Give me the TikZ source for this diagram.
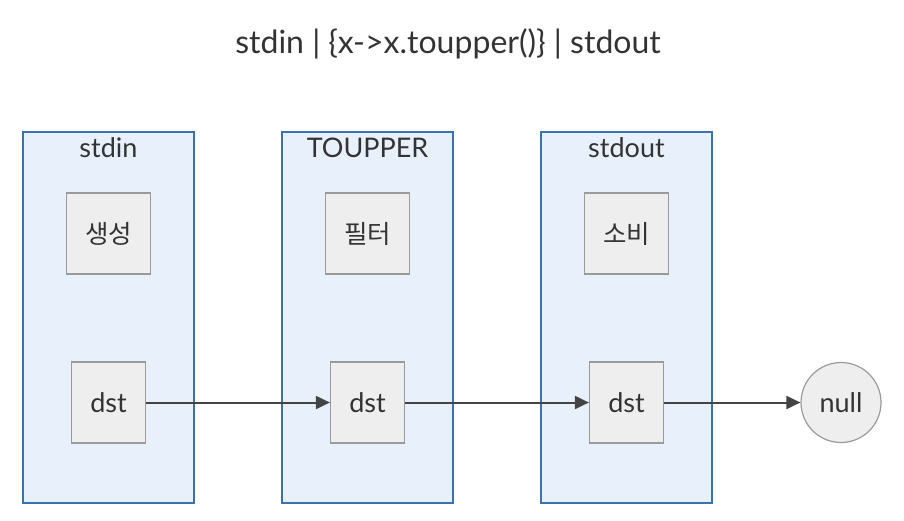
\documentclass[tikz,border=0pt]{standalone}
\usepackage{fontspec}
\setmainfont{Lato}
\newfontfamily\kofont{Noto Sans CJK KR}
\usetikzlibrary{arrows.meta}
\definecolor{clusterfill}{HTML}{E8F1FB}
\definecolor{clusterline}{HTML}{3A72B0}
\definecolor{nodefill}{HTML}{EEEEEE}
\definecolor{nodeline}{HTML}{9A9A9A}
\definecolor{textgray}{HTML}{333333}
\definecolor{edgegray}{HTML}{444444}
\tikzset{
	cluster/.style={draw=clusterline, fill=clusterfill, line width=1.2pt, minimum width=171pt, minimum height=371pt, inner sep=0pt},
	clusterlabel/.style={font=\fontsize{27}{30}\selectfont, text=textgray},
	procbox/.style={draw=nodeline, fill=nodefill, line width=1.2pt, minimum width=84pt, minimum height=81pt, inner sep=0pt, font=\kofont\fontsize{25.5}{28}\selectfont, text=textgray},
	dstbox/.style={draw=nodeline, fill=nodefill, line width=1.2pt, minimum width=74pt, minimum height=81pt, inner sep=0pt, font=\fontsize{27}{30}\selectfont, text=textgray},
	endcircle/.style={circle, draw=nodeline, fill=nodefill, line width=1.2pt, minimum size=80pt, inner sep=0pt, font=\fontsize{27}{30}\selectfont, text=textgray},
	flow/.style={draw=edgegray, line width=2pt, -{Triangle[length=14pt, width=13pt]}}
}
\begin{document}
\begin{tikzpicture}[x=1pt, y=-1pt]
		\useasboundingbox (0,0) rectangle (904,520);
		% ===== TITLE =====
		\node[font=\fontsize{32}{36}\selectfont, text=textgray] (title) at (448,44) {stdin | \{x->x.toupper()\} | stdout};
		% ===== CLUSTERS: one per pipe stage =====
		\foreach \x/\name/\lab/\job in {108.5/in/stdin/생성, 367.5/up/TOUPPER/필터, 626.5/out/stdout/소비} {
			\node[cluster] (\name-box) at (\x,317.5) {};
			\node[clusterlabel] (\name-lab) at (\x,148) {\lab};
			\node[procbox] (\name-job) at (\x,233.5) {\job};
			\node[dstbox] (\name-dst) at (\x,402.5) {dst};
		}
		% ===== SINK =====
		\node[endcircle] (null) at (841,402.5) {null};
		% ===== Edges between the dst nodes =====
		\draw[flow] (in-dst) -- (up-dst);
		\draw[flow] (up-dst) -- (out-dst);
		\draw[flow] (out-dst) -- (null);
	\end{tikzpicture}
\end{document}
